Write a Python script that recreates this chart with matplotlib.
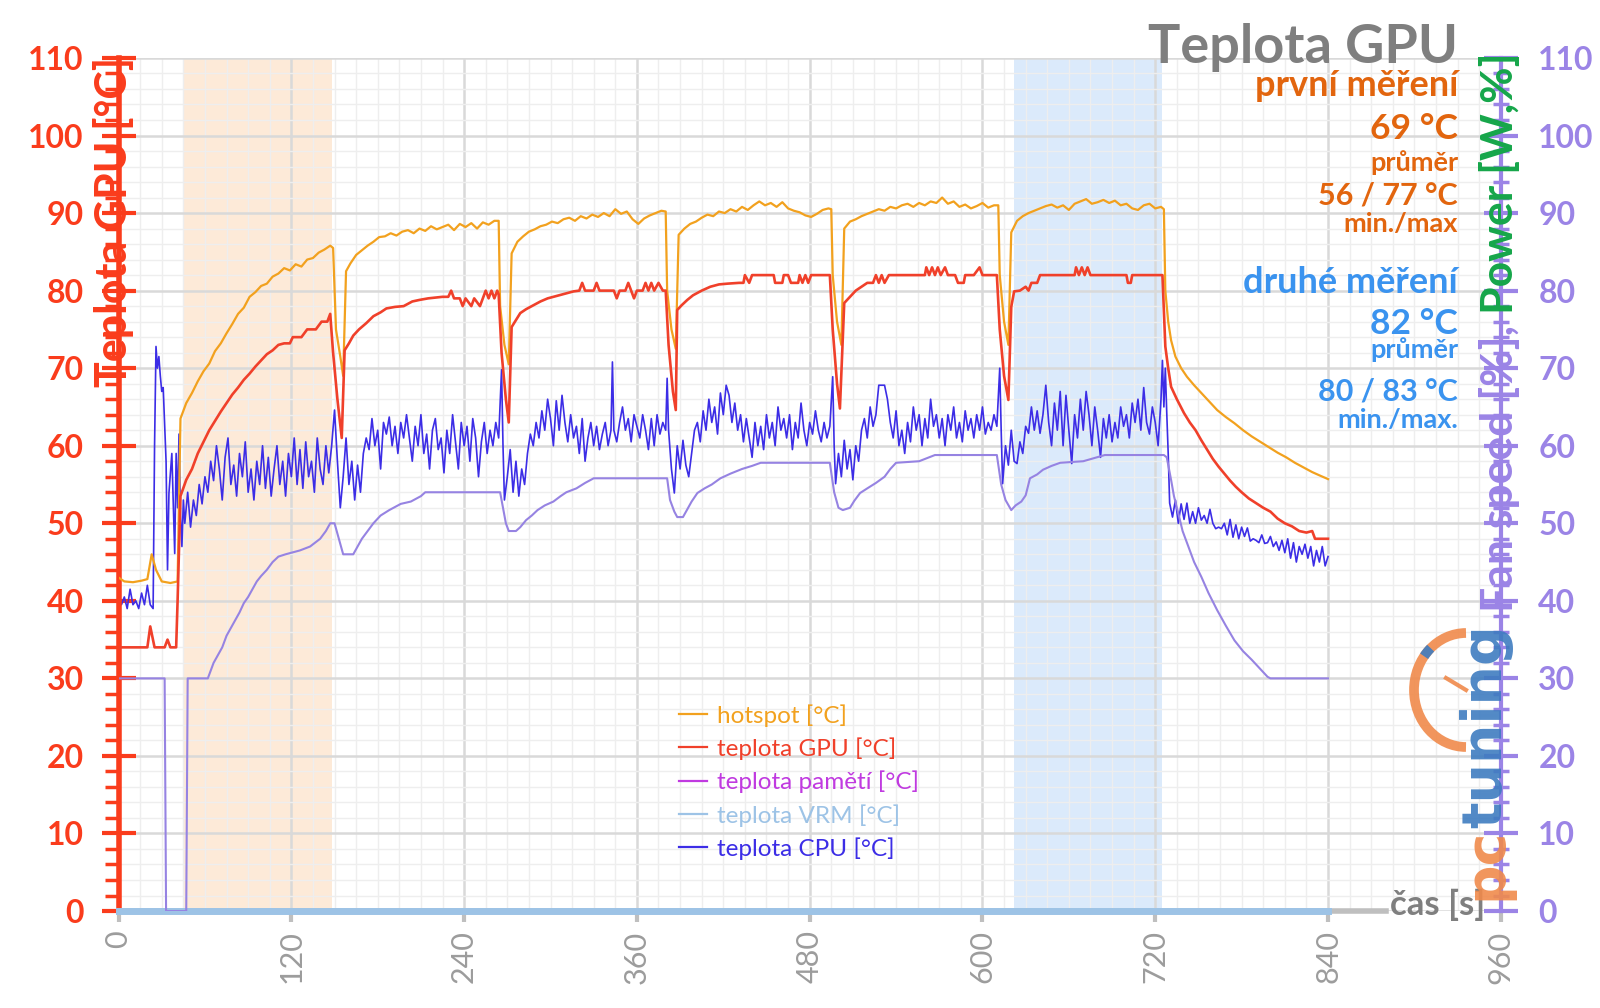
import matplotlib
matplotlib.use('Agg')
import matplotlib.pyplot as plt
from matplotlib.ticker import MultipleLocator
from matplotlib.patches import Arc

plt.rcParams['font.family'] = ['Lato', 'DejaVu Sans']

# ---- data: (time [s], value) ----
hotspot = [(0,43),(4,42.5),(10,42.4),(16,42.6),(20,42.8),(23,46),(26,44),(30,42.5),(36,42.3),(41,42.5),
    (43,63.5),(47,65.5),(51,66.8),(55,68.3),(59,69.6),(63,70.6),(67,72.2),(71,73.2),(75,74.5),(79,75.7),
    (83,77),(87,77.8),(91,79.2),(95,79.8),(99,80.6),(103,80.9),(107,81.8),(111,82.2),(115,82.9),(119,82.6),
    (123,83.4),(127,83.1),(131,84),(135,84.2),(139,84.9),(143,85.3),(147,85.8),
    (149,85.5),(151,75),(154,71.5),(156,69),(158,82.5),(161,83.5),(165,84.6),(169,85.2),(173,85.8),(177,86.3),
    (181,86.9),(185,87),(189,87.4),(193,87.1),(197,87.6),(201,87.8),(205,87.4),(209,88),(213,87.7),(217,88.3),
    (221,87.9),(225,88.2),(229,88.5),(233,87.8),(237,88.6),(241,88.2),(245,88.7),(249,88),(253,88.8),(257,88.5),
    (261,89),(264,89),
    (265,78),(268,73),(271,70.5),(273,84.8),(277,86.3),(281,87),(285,87.6),(289,87.9),(293,88.3),(297,88.5),
    (301,88.9),(305,88.7),(309,89.2),(313,89.4),(317,89),(321,89.6),(325,89.3),(329,89.8),(333,89.5),(337,90),
    (341,89.6),(345,90.5),(349,89.9),(353,90.2),(357,89.2),(361,88.6),(365,89.3),(369,89.7),(373,90),(377,90.3),
    (380,90.2),
    (381,80),(384,75),(387,72.5),(389,87.2),(393,88),(397,88.6),(401,88.9),(405,89.4),(409,89.8),(413,89.6),
    (417,90.2),(421,90),(425,90.5),(429,90.2),(433,90.8),(437,90.4),(441,91),(445,91.5),(449,91),(453,91.3),
    (457,90.8),(461,91.4),(465,90.6),(469,90.3),(473,90.1),(477,89.7),(481,89.5),(485,89.9),(489,90.4),(493,90.6),
    (495,90.5),
    (496,82),(499,76),(502,73),(504,88),(508,88.9),(512,89.2),(516,89.6),(520,89.9),(524,90.2),(528,90.5),
    (532,90.3),(536,90.8),(540,90.6),(544,91),(548,91.2),(552,90.8),(556,91.3),(560,91),(564,91.5),(568,91.3),
    (572,92),(576,91.2),(580,91.5),(584,90.8),(588,91.1),(592,90.6),(596,90.9),(600,91.3),(604,90.7),(608,91),
    (611,91),
    (612,82),(615,76),(618,73),(620,87.5),(624,89),(628,89.6),(632,90),(636,90.3),(640,90.6),(644,90.9),
    (648,91.1),(652,90.7),(656,91),(660,90.4),(664,91.2),(668,91.5),(672,91.8),(676,91.2),(680,91.4),(684,91.7),
    (688,91.3),(692,91.6),(696,91),(700,91.2),(704,90.6),(708,90.4),(712,91),(716,91.2),(720,90.6),(724,90.8),
    (726,90.5),
    (727,80),(729,76),(731,73.6),(734,71.5),(738,70),(742,68.9),(747,67.8),(752,66.8),(757,65.8),(763,64.6),
    (769,63.7),(775,62.9),(781,62),(787,61.2),(793,60.5),(799,59.8),(805,59.1),(811,58.5),(817,57.8),(823,57.2),
    (829,56.6),(835,56.1),(840,55.7)]

gpu = [(0,34),(20,34),(22,36.7),(25,34),(32,34),(34,35),(36,34),(40,34),(41,40),(43,53.5),(47,55.6),(51,57),
    (55,59),(59,60.5),(63,62),(67,63.2),(71,64.4),(75,65.5),(79,66.6),(83,67.5),(87,68.5),(91,69.3),(95,70.2),
    (99,71),(103,71.8),(107,72.3),(111,73),(115,73.2),(119,73.2),(121,74),(127,74),(131,75),(137,75),(141,76),
    (145,76),(147,77),
    (149,72),(152,66),(155,61),(157,72.3),(160,73.2),(163,74.2),(167,75),(172,75.8),(177,76.7),(182,77.2),
    (186,77.7),(192,77.9),(198,78),(204,78.6),(209,78.8),(215,79),(225,79.2),(229,79.2),(231,80),(233,79),
    (237,79),(239,78),(241,79),(245,78),(247,79),(251,78),(253,79),(255,80),(257,79),(259,80),(261,79),(263,80),
    (264,79.5),
    (266,72),(269,66),(271,63),(273,75.3),(276,76.2),(279,77.1),(283,77.6),(288,78.1),(293,78.6),(298,79),
    (302,79.2),(310,79.6),(316,79.9),(320,80),(322,81),(324,80),(330,80),(332,81),(334,80),(344,80),(346,79),
    (348,80),(352,80),(354,81),(356,80),(358,79),(360,80),(364,80),(366,81),(368,80),(370,81),(372,80),(375,81),
    (378,80),(380,80),
    (382,73),(385,67),(387,64.6),(388,77.5),(391,78.1),(395,78.8),(399,79.4),(405,80),(411,80.5),(417,80.8),
    (423,80.9),(431,81),(434,81),(435,82),(438,81),(440,82),(455,82),(456,81),(461,81),(462,82),(465,82),
    (467,81),(472,81),(473,82),(475,81),(477,82),(479,81),(481,82),(494,82),
    (496,75),(499,68),(501,64.8),(504,78.4),(508,79.2),(512,80),(516,80.5),(520,81),(524,81),(526,82),(528,81),
    (530,82),(532,81),(535,82),(560,82),(561,83),(563,82),(565,83),(567,82),(569,83),(571,82),(574,83),(576,82),
    (581,82),(583,81),(587,81),(588,82),(594,82),(598,83),(600,82),(610,82),
    (612,75),(615,69),(618,65.9),(620,77.9),(622,79.9),(626,80),(630,80.5),(632,80),(634,81),(638,81),(640,82),
    (664,82),(665,83),(667,82),(669,83),(671,82),(673,83),(675,82),(700,82),(701,81),(703,81),(704,82),(725,82),
    (727,72.8),(729,70),(731,67.6),(735,66),(740,64.2),(744,63),(748,62),(752,60.7),(756,59.5),(760,58.3),
    (764,57.3),(768,56.4),(772,55.5),(776,54.7),(780,54),(785,53.2),(790,52.6),(795,52),(800,51.5),(805,50.6),
    (810,50),(815,49.6),(820,49),(825,48.8),(829,49),(831,48),(835,48),(840,48)]

cpu = [(0,41),(2,39.5),(4,40.5),(6,39),(8,41.5),(10,39.5),(12,40),(14,39),(16,41),(18,39.5),(20,42),(22,39.5),
    (24,39),(25,60),(26,72.8),(27,70),(28,71.5),(29,69),(30,67),(31,67.5),(33,58),(34,44),(35,53.9),(37,59),
    (39,46.1),(40,59),(41,52),(42,61.5),(43,51),(44,47),(45,53),(46,50),(48,54),(50,49.5),(52,53),(54,51),
    (56,55),(58,52.5),(60,56),(62,54),(64,58),(66,55.5),(68,60),(70,57),(72,53),(74,58.5),(76,61),(78,55),
    (80,57.5),(82,53.5),(84,59),(86,56),(88,60.5),(90,54),(92,57),(94,53),(96,58),(98,55),(100,60),(102,54.5),
    (104,58.5),(106,53.5),(108,57),(110,60),(112,55),(114,58),(116,53.5),(118,59),(120,56),(122,61),(124,55),
    (126,59.5),(128,54.5),(130,60.5),(132,56),(134,58),(136,54),(138,61),(140,57),(142,55),(144,60),(146,56.5),
    (148,60),(150,64.6),(152,58),(154,52),(156,56),(158,61),(160,55),(162,58),(164,53),(166,57.5),(168,54),
    (170,59),(172,61),(174,59.5),(176,63.5),(178,60),(180,62),(182,57),(184,63),(186,61.5),(188,63.7),(190,60),
    (192,62.5),(194,59),(196,63),(198,61),(200,64),(202,61),(204,58),(206,62.5),(208,60),(210,64),(212,59),
    (214,61.5),(216,57),(218,62),(220,63.5),(222,59.5),(224,61),(226,56.5),(228,62),(230,59),(232,64),(234,60.5),
    (236,57),(238,63),(240,60),(242,62.5),(244,58),(246,63.5),(248,61),(250,56),(252,60.5),(254,63),(256,59),
    (258,62),(260,60),(262,63),(264,61),(266,69.8),(267,60),(268,53),(270,56),(272,59.5),(274,54),(276,58),
    (278,53.5),(280,57),(282,55),(284,59),(286,61.5),(288,60),(290,63),(292,61),(294,64.5),(296,62),(298,66),
    (300,63.5),(302,60),(304,65.8),(306,62),(308,66.5),(310,63),(312,60.5),(314,64),(316,61),(318,62.5),(320,59),
    (322,63.5),(324,58),(326,61),(328,63),(330,60),(332,62.5),(334,59.5),(336,61.5),(338,63),(340,60),(342,62),
    (343,70.8),(344,62),(346,60.5),(348,63),(350,65),(352,62),(354,63.5),(356,60.5),(358,64),(360,62.5),(362,61),
    (364,64),(366,62),(368,59.5),(370,63.5),(372,60),(374,64),(376,61.5),(378,63),(380,62),(381,68.7),(382,62),
    (384,57),(386,53.9),(388,60),(390,57),(392,60.7),(394,57.5),(396,56),(398,59),(400,62),(402,63),(404,60.5),
    (406,64.5),(408,62),(410,66),(412,63),(414,65),(416,61.5),(418,66.8),(420,64),(422,67.8),(424,66.5),(426,63),
    (428,65.5),(430,62),(432,64),(434,60.5),(436,63.5),(438,61),(440,58.5),(442,63),(444,60),(446,62.5),
    (448,59.5),(450,64),(452,61),(454,63),(456,60),(458,65),(460,62),(462,63.5),(464,61),(466,64),(468,59.5),
    (470,63),(472,61),(474,65.5),(476,62),(478,60),(480,63),(482,61.5),(484,64.5),(486,62),(488,60.5),(490,63),
    (492,61),(494,62.5),(496,68.9),(497,60),(498,55.1),(500,59),(502,56),(504,60.7),(506,57),(508,59.5),
    (510,55.6),(512,60),(514,58),(516,62),(518,63.5),(520,61),(522,65),(524,62.5),(526,64),(528,67.8),(532,67.8),
    (534,66),(536,63),(538,61),(540,64.5),(542,60),(544,62),(546,59),(548,63),(550,60.5),(552,65),(554,62),
    (556,64),(558,60),(560,63.5),(562,61),(564,66),(566,62.5),(568,64),(570,61),(572,63.5),(574,60),(576,64),
    (578,62),(580,65),(582,61),(584,63),(586,60.5),(588,64.5),(590,62),(592,63.5),(594,61),(596,64),(598,62),
    (600,65),(602,61.5),(604,63),(606,62),(608,64),(610,62.5),(612,70),(613,62),(614,55.1),(616,60),(618,57.5),
    (620,62),(622,58),(624,57.7),(626,60.5),(628,59),(630,62.5),(632,61.6),(634,65),(636,62),(638,64.5),
    (640,61.6),(642,64),(644,67.8),(646,63),(648,60),(650,65.5),(652,62),(654,67),(656,60),(658,66.5),(660,62),
    (662,57.7),(664,64),(666,61),(668,66),(670,62),(672,67),(674,64),(676,60),(678,65),(680,62),(682,58.5),
    (684,63.5),(686,61),(688,64),(690,60.5),(692,63),(694,61),(696,65),(698,62.5),(700,64),(702,61),(704,65.5),
    (706,63),(708,66),(710,62),(712,67.5),(714,63),(716,61.5),(718,65),(720,63),(722,60),(724,66),(725,71),
    (726,65),(727,70),(728,64.2),(729,59),(730,52.6),(732,50.8),(734,53),(736,50),(738,52.5),(740,50.5),
    (742,52.6),(744,50),(746,51.5),(748,50),(750,52),(752,50.4),(754,51),(756,50),(758,51.8),(760,50),(762,49.3),
    (764,49.5),(766,49.3),(768,50),(770,48.5),(772,50.5),(774,48.2),(776,49.8),(778,48),(780,49.5),(782,48.3),
    (784,49.4),(786,47.7),(788,48),(790,47.8),(792,47.5),(794,48.5),(796,47.4),(798,47.5),(800,48.3),(802,47),
    (804,47.6),(806,46.5),(808,47.8),(810,46.2),(812,48),(814,45.5),(816,47.5),(818,45),(820,47),(822,46),
    (824,47.3),(826,45.5),(828,47),(830,44.5),(832,46.5),(834,45),(836,47),(838,44.5),(840,45.7)]

fan = [(0,30),(32,30),(33,0),(47,0),(48,30),(62,30),(64,31),(66,32),(69,33),(72,34),(75,35.5),(78,36.5),
    (81,37.5),(84,38.5),(87,39.7),(90,40.5),(93,41.5),(96,42.5),(99,43.2),(103,44),(107,45),(111,45.7),(116,46),
    (126,46.5),(133,47),(140,48),(144,49),(147,50),(150,50),(153,48),(156,46),(163,46),(166,47),(169,48),
    (173,49),(177,50),(182,51),(188,51.7),(196,52.5),(203,52.8),(210,53.5),(213,54),(265,54),
    (267,52),(269,50),(271,49),(276,49),(279,49.5),(283,50.4),(287,51),(291,51.7),(296,52.3),(302,52.8),
    (307,53.5),(311,54),(318,54.5),(324,55.2),(330,55.8),(381,55.8),
    (383,53),(386,51.5),(388,50.8),(392,50.8),(395,51.8),(398,52.8),(402,53.9),(407,54.5),(412,55),(418,55.8),
    (425,56.4),(433,57),(440,57.4),(446,57.8),(494,57.8),
    (497,54),(500,52),(503,51.7),(508,52),(511,52.9),(515,53.9),(520,54.5),(526,55.2),(532,56),(536,57),
    (540,57.8),(556,58),(567,58.8),(610,58.8),
    (613,55),(616,53),(620,51.7),(623,52.3),(627,52.8),(630,53.6),(633,55.8),(638,56.3),(642,56.9),(648,57.4),
    (654,57.8),(670,58),(685,58.8),(726,58.8),
    (728,58.5),(731,55.6),(733,53.5),(736,51.3),(739,49),(743,47),(747,45),(752,43.1),(757,41),(763,38.8),
    (769,36.8),(775,34.9),(781,33.5),(787,32.4),(793,31.2),(798,30.2),(800,30),(840,30)]

memory = [(0,0),(840,0)]
vrm = [(0,0),(840,0)]

first_run = (44.5, 148)
second_run = (622, 725)

series_labels = ['hotspot [°C]', 'teplota GPU [°C]', 'teplota pamětí [°C]', 'teplota VRM [°C]', 'teplota CPU [°C]']
x_ticks = [0, 120, 240, 360, 480, 600, 720, 840, 960]
y_ticks = [0, 10, 20, 30, 40, 50, 60, 70, 80, 90, 100, 110]

info_first = ['první měření', '69 °C', 'průměr', '56 / 77 °C', 'min./max']
info_second = ['druhé měření', '82 °C', 'průměr', '80 / 83 °C', 'min./max.']

# ---- figure ----
fig = plt.figure(figsize=(16, 10.08), dpi=100)
ax = fig.add_axes([0.0741, 0.0962, 0.8639, 0.8463])
ax2 = ax.twinx()

c_hot = '#f2a11e'
c_gpu = '#f0402a'
c_mem = '#c03ae0'
c_vrm = '#9dc3e6'
c_cpu = '#3c2de6'
c_fan = '#9683e2'
c_left = '#fa3c1c'
c_right = '#9b84e6'

ax.axvspan(*first_run, color='#fdead8', zorder=0.2, lw=0)
ax.axvspan(*second_run, color='#dbeafb', zorder=0.2, lw=0)

t, v = zip(*hotspot)
ax.plot(t, v, color=c_hot, lw=1.6, label=series_labels[0], zorder=3)
t, v = zip(*gpu)
ax.plot(t, v, color=c_gpu, lw=1.9, label=series_labels[1], zorder=3)
t, v = zip(*memory)
ax.plot(t, v, color=c_mem, lw=1.6, label=series_labels[2], clip_on=False, zorder=4)
t, v = zip(*vrm)
ax.plot(t, v, color=c_vrm, lw=1.6, label=series_labels[3], zorder=5)
# thick VRM trace on the baseline
ax.plot(t, v, color=c_vrm, lw=5, clip_on=False, zorder=5)
t, v = zip(*cpu)
ax.plot(t, v, color=c_cpu, lw=1.2, label=series_labels[4], zorder=2)
t, v = zip(*fan)
ax2.plot(t, v, color=c_fan, lw=1.5, zorder=2)

for a in (ax, ax2):
    a.set_xlim(0, 960)
    a.set_ylim(0, 110)

ax.set_axisbelow(True)
ax.xaxis.set_major_locator(MultipleLocator(120))
ax.xaxis.set_minor_locator(MultipleLocator(15))
ax.yaxis.set_major_locator(MultipleLocator(10))
ax.yaxis.set_minor_locator(MultipleLocator(2))
ax.grid(which='major', color='#d9d9d9', lw=1.8)
ax.grid(which='minor', color='#eeeeee', lw=1.0)

ax.set_xticks(x_ticks)
ax.set_xticklabels([str(x) for x in x_ticks], rotation=90, color='#9c9c9c', fontsize=22)
ax.set_yticks(y_ticks)
ax.set_yticklabels([str(y) for y in y_ticks], color=c_left, fontsize=23, fontweight='bold')
ax.tick_params(axis='x', which='major', length=8, width=3, color='#bfbfbf', pad=6)
ax.tick_params(axis='x', which='minor', length=0)
ax.tick_params(axis='y', which='major', direction='inout', length=24, width=3, color=c_left, pad=13)
ax.tick_params(axis='y', which='minor', direction='out', length=10, width=2.5, color=c_left)

ax2.yaxis.set_major_locator(MultipleLocator(10))
ax2.yaxis.set_minor_locator(MultipleLocator(2))
ax2.set_yticks(y_ticks)
ax2.set_yticklabels([str(y) for y in y_ticks], color=c_right, fontsize=23, fontweight='bold')
ax2.tick_params(axis='y', which='major', direction='inout', length=24, width=3, color=c_right, pad=15)
ax2.tick_params(axis='y', which='minor', direction='inout', length=12, width=2.5, color=c_right)

for a in (ax, ax2):
    a.spines['top'].set_visible(False)
ax.spines['right'].set_visible(False)
ax2.spines['left'].set_visible(False)
ax2.spines['bottom'].set_visible(False)
ax.spines['left'].set_color(c_left)
ax.spines['left'].set_linewidth(4)
ax2.spines['right'].set_color(c_right)
ax2.spines['right'].set_linewidth(3)
ax.spines['bottom'].set_color('#bfbfbf')
ax.spines['bottom'].set_linewidth(4)
ax.spines['bottom'].set_bounds(0, 880)

leg = ax.legend(loc='upper left', bbox_to_anchor=(679 / 1600, 1 - 704 / 1008), bbox_transform=fig.transFigure,
                frameon=False, fontsize=17.5, labelcolor='linecolor', handlelength=1.15, handletextpad=0.4,
                labelspacing=0.44, borderpad=0, borderaxespad=0)
for h in leg.get_lines():
    h.set_linewidth(1.6)

# axis titles
fig.text(114 / 1600, 1 - 57 / 1008, 'Teplota GPU [°C]', rotation=90, ha='center', va='top',
         color=c_left, fontsize=31, fontweight='bold')
fig.text(1390 / 1600, 1 - 905 / 1008, 'čas [s]', ha='left', va='center', color='#7f7f7f',
         fontsize=25, fontweight='bold')
t1 = fig.text(1499 / 1600, 1 - 612 / 1008, 'Fan speed [%], ', rotation=90, ha='center', va='bottom',
              color=c_right, fontsize=32, fontweight='bold')

# header and summary block
fig.text(1458 / 1600, 1 - 63 / 1008, 'Teplota GPU', ha='right', va='baseline', color='#7f7f7f',
         fontsize=39, fontweight='bold')
sizes = [26, 25.5, 19.5, 22, 19.5]
base_first = [96, 139, 171, 205, 232]
base_second = [293, 334, 358, 401, 428]
for txt, fs, yb in zip(info_first, sizes, base_first):
    fig.text(1458 / 1600, 1 - yb / 1008, txt, ha='right', va='baseline', color='#e2650e',
             fontsize=fs, fontweight='bold')
for txt, fs, yb in zip(info_second, sizes, base_second):
    fig.text(1458 / 1600, 1 - yb / 1008, txt, ha='right', va='baseline', color='#3a93ef',
             fontsize=fs, fontweight='bold')

# pctuning watermark
fig.add_artist(Arc((1466 / 1600, 1 - 690 / 1008), 104 / 1600, 114 / 1008, theta1=90, theta2=270,
                   transform=fig.transFigure, color='#f08a4b', lw=7, alpha=0.9))
fig.add_artist(plt.Line2D([1446 / 1600, 1466 / 1600], [1 - 678 / 1008, 1 - 690 / 1008],
                          transform=fig.transFigure, color='#f08a4b', lw=3, alpha=0.9))
fig.add_artist(Arc((1466 / 1600, 1 - 690 / 1008), 104 / 1600, 114 / 1008, theta1=118, theta2=128,
                   transform=fig.transFigure, color='#3e7cc0', lw=7, alpha=0.9))
pc = fig.text(1486 / 1600, 1 - 900 / 1008, 'pc', rotation=90, ha='center', va='bottom', color='#f08a4b',
              fontsize=40, fontweight='bold', family='DejaVu Sans', alpha=0.9)

fig.canvas.draw()
inv = fig.transFigure.inverted()
bb = t1.get_window_extent().transformed(inv)
fig.text(1499 / 1600, bb.y1, 'Power [W,%]', rotation=90, ha='center', va='bottom',
         color='#16a64a', fontsize=32, fontweight='bold')
bb = pc.get_window_extent().transformed(inv)
fig.text(1486 / 1600, bb.y1, 'tuning', rotation=90, ha='center', va='bottom', color='#3e7cc0',
         fontsize=40, fontweight='bold', family='DejaVu Sans', alpha=0.9)

fig.savefig('out.png', dpi=100)
